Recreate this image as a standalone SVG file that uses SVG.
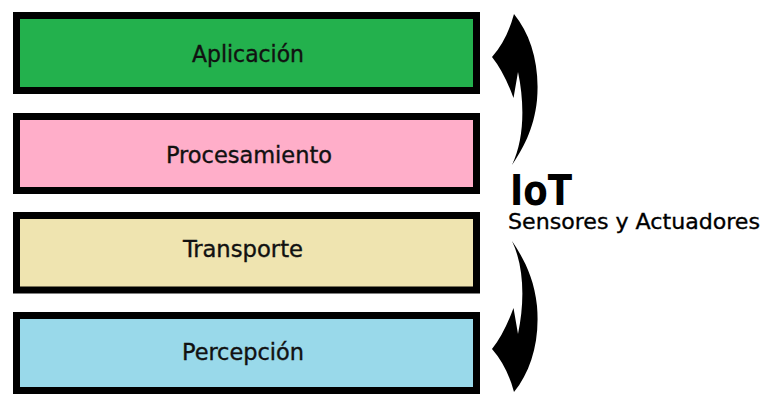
<svg xmlns="http://www.w3.org/2000/svg" width="782" height="409" viewBox="0 0 782 409">
<style>
.box{stroke:#000;stroke-width:7}
.lbl{font-family:"DejaVu Sans Condensed","DejaVu Sans",sans-serif;font-size:23px;fill:#111;text-anchor:middle;stroke:#111;stroke-width:0.35}
.big{font-family:"DejaVu Sans Condensed","DejaVu Sans",sans-serif;fill:#000}
.arr{fill:#000}
</style>
<defs>
<path id="carrow" d="M514,14 C531,35 540,65 537,100 C534,130 522,150 512,165 C524,140 525,105 518,72 L513.5,98 Q504,72 492,57 Q507,40 514,14 Z"/>
</defs>
<rect width="782" height="409" fill="#fff"/>
<g id="aplicacion">
<rect class="box" x="16.5" y="15.5" width="460" height="75" fill="#23b14d"/>
<text class="lbl" x="248" y="62" textLength="112" lengthAdjust="spacingAndGlyphs">Aplicación</text>
</g>
<g id="procesamiento">
<rect class="box" x="16.5" y="116.5" width="460" height="74" fill="#ffaec9"/>
<text class="lbl" x="249" y="163" textLength="166" lengthAdjust="spacingAndGlyphs">Procesamiento</text>
</g>
<g id="transporte">
<rect class="box" x="16.5" y="215.5" width="460" height="74.5" fill="#efe4b0"/>
<text class="lbl" x="243" y="257" textLength="120" lengthAdjust="spacingAndGlyphs">Transporte</text>
</g>
<g id="percepcion">
<rect class="box" x="16.5" y="315.5" width="460" height="75" fill="#99d9ea"/>
<text class="lbl" x="243" y="360" textLength="122" lengthAdjust="spacingAndGlyphs">Percepción</text>
</g>
<g id="iot">
<text class="big" x="510" y="205" font-size="42" font-weight="bold" textLength="62" lengthAdjust="spacingAndGlyphs">IoT</text>
<text class="big" x="508" y="229" font-size="21" stroke="#000" stroke-width="0.3" textLength="252" lengthAdjust="spacingAndGlyphs">Sensores y Actuadores</text>
</g>
<g id="connectors">
<use href="#carrow" class="arr"/>
<use href="#carrow" class="arr" transform="translate(0,406) scale(1,-1)"/>
</g>
</svg>
